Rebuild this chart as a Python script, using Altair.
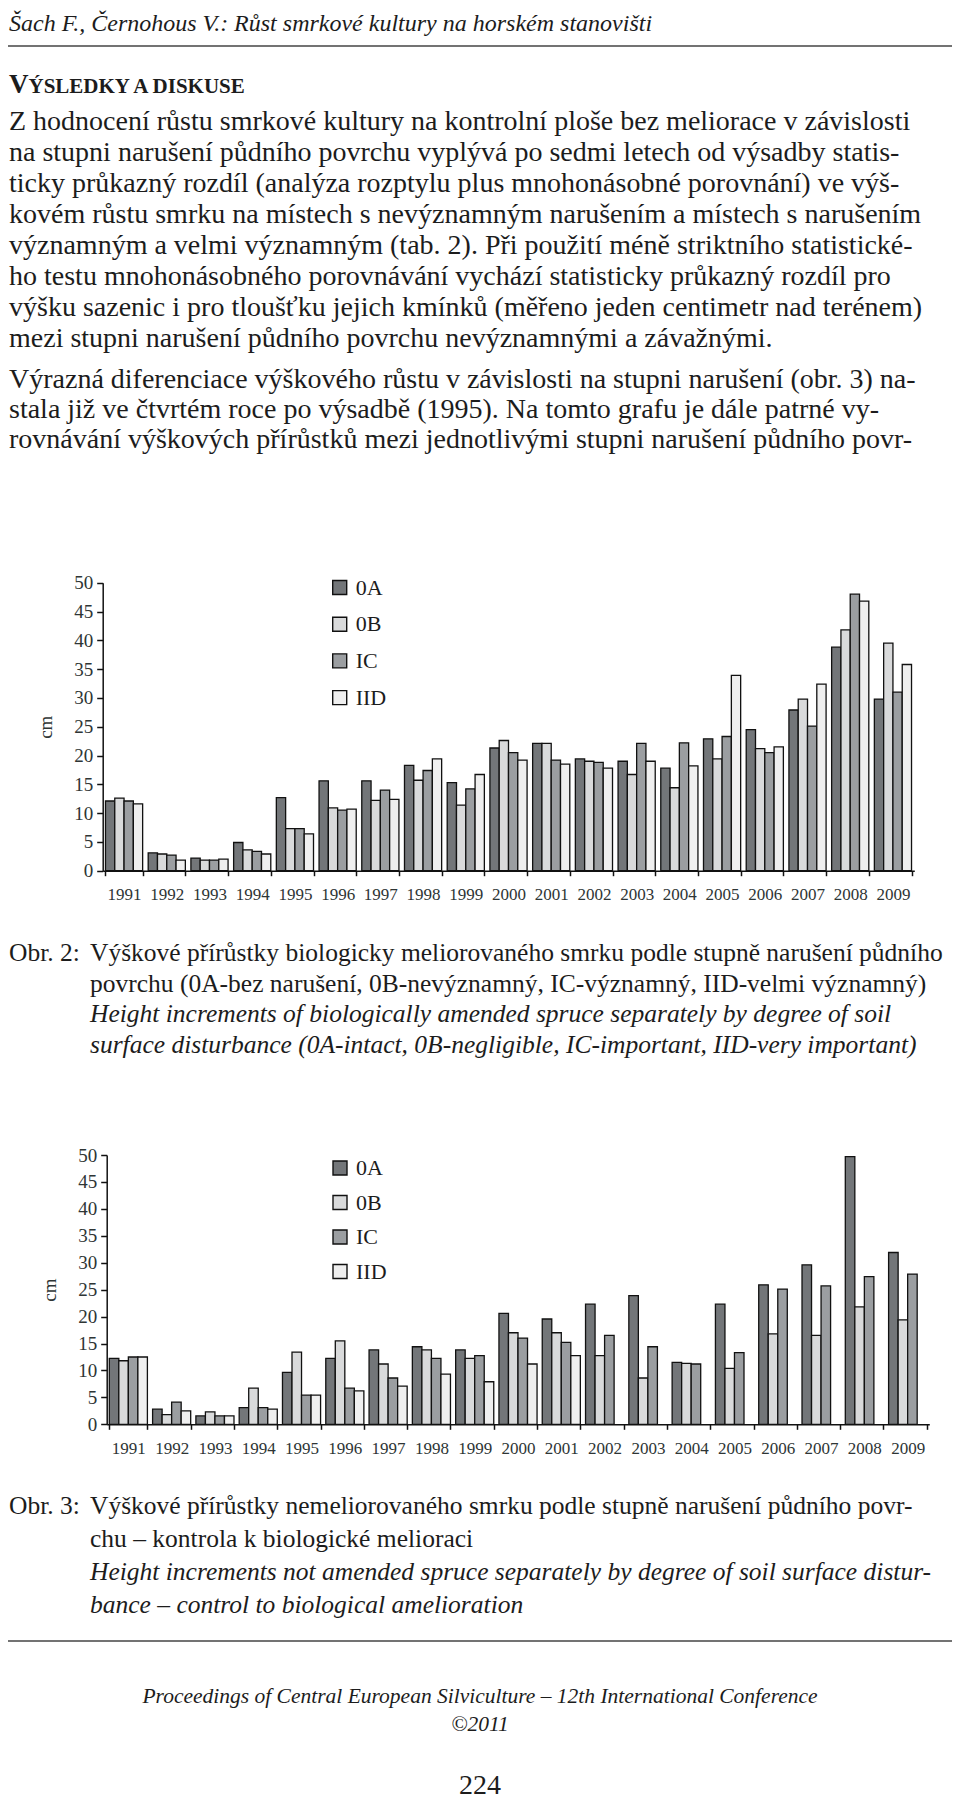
import altair as alt
import pandas as pd

# ---------------- data ----------------
years = [str(y) for y in range(1991, 2010)]
categories = ["0A", "0B", "IC", "IID"]
colors = ["#737679", "#d9dadb", "#9b9ea1", "#efefef"]

# Obr. 2 – biologically amended spruce (cm)
obr2_0A = [12.1, 3.1, 2.2, 4.9, 12.7, 15.6, 15.6, 18.3, 15.3, 21.3, 22.1, 19.4, 19.0, 17.8, 22.9, 24.5, 27.9, 38.8, 29.8]
obr2_0B = [12.6, 2.9, 1.85, 3.6, 7.3, 10.9, 12.2, 15.7, 11.4, 22.6, 22.1, 19.0, 16.7, 14.4, 19.4, 21.2, 29.8, 41.8, 39.5]
obr2_IC = [12.1, 2.7, 1.85, 3.35, 7.3, 10.5, 14.0, 17.4, 14.2, 20.5, 19.2, 18.8, 22.1, 22.2, 23.3, 20.5, 25.1, 48.0, 31.0]
obr2_IID = [11.6, 1.85, 2.0, 2.9, 6.4, 10.7, 12.4, 19.4, 16.7, 19.2, 18.5, 17.8, 19.0, 18.2, 33.9, 21.5, 32.4, 46.8, 35.8]

# Obr. 3 – not amended spruce (cm)
obr3_0A = [12.25, 2.8, 1.55, 3.1, 9.65, 12.25, 13.8, 14.4, 13.8, 20.6, 19.55, 22.3, 23.9, 11.5, 22.3, 25.9, 29.6, 49.7, 31.9]
obr3_0B = [11.8, 1.8, 2.3, 6.7, 13.4, 15.5, 11.2, 13.8, 12.25, 17.0, 17.0, 12.75, 8.6, 11.3, 10.4, 16.8, 16.5, 21.8, 19.4]
obr3_IC = [12.5, 4.1, 1.55, 3.1, 5.4, 6.7, 8.6, 12.25, 12.75, 16.0, 15.2, 16.5, 14.4, 11.2, 13.3, 25.1, 25.7, 27.4, 27.9]
obr3_IID = [12.5, 2.5, 1.55, 2.8, 5.4, 6.2, 7.1, 9.3, 7.9, 11.2, 12.75, None, None, None, None, None, None, None, None]

y_ticks = [0, 5, 10, 15, 20, 25, 30, 35, 40, 45, 50]

# ---------------- text ----------------
header = "Šach F., Černohous V.: Růst smrkové kultury na horském stanovišti"
heading_big = "V"
heading_small = "ÝSLEDKY A DISKUSE"
para1 = [
    "Z hodnocení růstu smrkové kultury na kontrolní ploše bez meliorace v závislosti",
    "na stupni narušení půdního povrchu vyplývá po sedmi letech od výsadby statis-",
    "ticky průkazný rozdíl (analýza rozptylu plus mnohonásobné porovnání) ve výš-",
    "kovém růstu smrku na místech s nevýznamným narušením a místech s narušením",
    "významným a velmi významným (tab. 2). Při použití méně striktního statistické-",
    "ho testu mnohonásobného porovnávání vychází statisticky průkazný rozdíl pro",
    "výšku sazenic i pro tloušťku jejich kmínků (měřeno jeden centimetr nad terénem)",
    "mezi stupni narušení půdního povrchu nevýznamnými a závažnými.",
]
para2 = [
    "Výrazná diferenciace výškového růstu v závislosti na stupni narušení (obr. 3) na-",
    "stala již ve čtvrtém roce po výsadbě (1995). Na tomto grafu je dále patrné vy-",
    "rovnávání výškových přírůstků mezi jednotlivými stupni narušení půdního povr-",
]
cap1_label = "Obr. 2:"
cap1_cz = [
    "Výškové přírůstky biologicky meliorovaného smrku podle stupně narušení půdního",
    "povrchu (0A-bez narušení, 0B-nevýznamný, IC-významný, IID-velmi významný)",
]
cap1_en = [
    "Height increments of biologically amended spruce separately by degree of soil",
    "surface disturbance (0A-intact, 0B-negligible, IC-important, IID-very important)",
]
cap2_label = "Obr. 3:"
cap2_cz = [
    "Výškové přírůstky nemeliorovaného smrku podle stupně narušení půdního povr-",
    "chu – kontrola k biologické melioraci",
]
cap2_en = [
    "Height increments not amended spruce separately by degree of soil surface distur-",
    "bance – control to biological amelioration",
]
footer = "Proceedings of Central European Silviculture – 12th International Conference"
footer_year = "©2011"
page_no = "224"

# ---------------- layout ----------------
W, H = 944, 1793
SERIF = "Liberation Serif"
INK = "#1c1c1c"


def long_df(series):
    rows = []
    for cat, vals in zip(categories, series):
        for yr, v in zip(years, vals):
            if v is not None:
                rows.append({"rok": yr, "stupeň": cat, "cm": v})
    return pd.DataFrame(rows)


def text_block(lines, x, y, size, lh=None, style="normal", weight="normal", align="left"):
    props = dict(align=align, baseline="alphabetic", font=SERIF, fontSize=size,
                 fontStyle=style, fontWeight=weight, color=INK)
    if lh is not None:
        props["lineHeight"] = lh
    return alt.Chart(alt.Data(values=[{}])).mark_text(**props).encode(
        x=alt.value(x), y=alt.value(y), text=alt.value(lines)
    )


def hrule(y):
    return alt.Chart(alt.Data(values=[{}])).mark_rule(color="#444", strokeWidth=1.5).encode(
        x=alt.value(0), x2=alt.value(W), y=alt.value(y)
    )


def bar_chart(df, xr, yr, legend_xy, row_pad, pad_inner):
    x_axis = alt.Axis(
        title=None, orient="bottom", offset=yr[0] - H, tickBand="extent", labelAngle=0,
        labelFont=SERIF, labelFontSize=17, labelColor="#2e3535", labelPadding=11,
        tickSize=5, tickColor="#111", tickWidth=1.5, domainColor="#111", domainWidth=1.5,
        grid=False,
    )
    y_axis = alt.Axis(
        title="cm", orient="left", offset=-xr[0], values=y_ticks,
        labelFont=SERIF, labelFontSize=19, labelColor="#2e3535", labelPadding=4,
        tickSize=6, tickColor="#111", tickWidth=1.5, domainColor="#111", domainWidth=1.5,
        titleFont=SERIF, titleFontSize=19, titleFontWeight="normal", titleColor="#2e3535",
        titlePadding=18, grid=False,
    )
    legend = alt.Legend(
        orient="none", legendX=legend_xy[0], legendY=legend_xy[1], direction="vertical",
        title=None, symbolType="square", symbolSize=196, symbolStrokeColor="#111",
        symbolStrokeWidth=1.4, labelFont=SERIF, labelFontSize=22, labelColor="#1c1c1c",
        labelOffset=5, rowPadding=row_pad, padding=0,
    )
    return alt.Chart(df).mark_bar(stroke="#111", strokeWidth=1.3).encode(
        x=alt.X("rok:N", sort=years, axis=x_axis,
                scale=alt.Scale(domain=years, range=list(xr),
                                paddingInner=pad_inner, paddingOuter=pad_inner / 2)),
        xOffset=alt.XOffset("stupeň:N", sort=categories,
                            scale=alt.Scale(domain=categories, paddingInner=0, paddingOuter=0)),
        y=alt.Y("cm:Q", axis=y_axis,
                scale=alt.Scale(domain=[0, 50], range=list(yr), nice=False, zero=True)),
        color=alt.Color("stupeň:N", scale=alt.Scale(domain=categories, range=colors), legend=legend),
    )


chart2 = bar_chart(long_df([obr2_0A, obr2_0B, obr2_IC, obr2_IID]),
                   (94.7, 906.3), (862.7, 574.7), (320.7, 568.5), 14.7, 0.13)
chart3 = bar_chart(long_df([obr3_0A, obr3_0B, obr3_IC, obr3_IID]),
                   (98.7, 921.3), (1416.3, 1147.0), (321.0, 1149.0), 12.5, 0.12)

layers = [
    chart2,
    chart3,
    text_block(header, 1, 23, 24, style="italic"),
    hrule(38),
    text_block(heading_big, 1, 85, 27, weight="bold"),
    text_block(heading_small, 20.5, 85, 21, weight="bold"),
    text_block(para1, 1, 122, 28, lh=31),
    text_block(para2, 1, 380, 28, lh=30),
    text_block(cap1_label, 1, 953, 25.5),
    text_block(cap1_cz, 82, 953, 25.5, lh=30.5),
    text_block(cap1_en, 82, 1014, 25.5, lh=30.5, style="italic"),
    text_block(cap2_label, 1, 1506, 25.5),
    text_block(cap2_cz, 82, 1506, 25.5, lh=33),
    text_block(cap2_en, 82, 1572, 25.5, lh=33, style="italic"),
    hrule(1633),
    text_block(footer, 472, 1695, 21.5, style="italic", align="center"),
    text_block(footer_year, 472, 1723, 21.5, style="italic", align="center"),
    text_block(page_no, 472, 1786, 28, align="center"),
]

chart = (
    alt.layer(*layers)
    .resolve_scale(x="independent", y="independent", xOffset="independent", color="independent")
    .properties(width=W, height=H, padding=0, autosize="none", background="white")
    .configure_view(stroke=None)
)

chart.save("out.html", embed_options={"renderer": "svg", "actions": False})
